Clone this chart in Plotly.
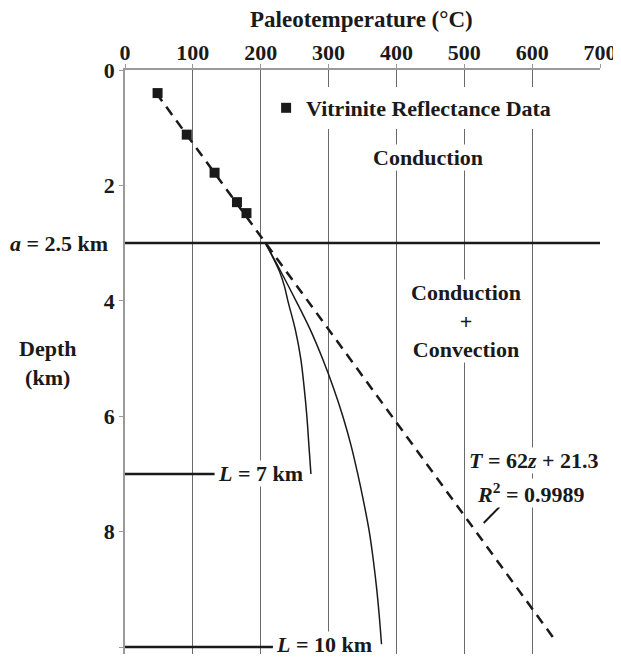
import plotly.graph_objects as go

# ---------------- data ----------------
x_ticks = [0, 100, 200, 300, 400, 500, 600, 700]
y_ticks = [0, 2, 4, 6, 8, 10]

# Vitrinite reflectance data (temperature °C, depth km)
vr_temp = [48, 91, 132, 165, 179]
vr_depth = [0.40, 1.12, 1.78, 2.29, 2.48]

# Linear fit T = 62z + 21.3 (end points)
fit_depth = [0.4, 9.92]
fit_temp = [46.1, 636.3]

# Model curve L = 7 km
l7_depth = [3.0, 3.25, 3.5, 3.75, 4.0, 4.5, 5.0, 5.5, 6.0, 6.5, 7.0]
l7_temp = [207, 218, 228, 235, 240, 251, 259, 264, 268, 271, 274]

# Model curve L = 10 km
l10_depth = [3.0, 3.5, 4.0, 4.5, 5.0, 5.5, 6.0, 6.5, 7.0, 7.5, 8.0, 8.5, 9.0, 9.5, 9.95]
l10_temp = [207, 230, 252, 273, 291, 307, 321, 333, 343, 352, 360, 366, 371, 375, 378]

# Reference lines
a_depth = [3.0, 3.0]
a_temp = [0, 700]
l7_line_depth = [7.0, 7.0]
l7_line_temp = [0, 132]
l10_line_depth = [10.0, 10.0]
l10_line_temp = [0, 218]

FONT = "Liberation Serif, Times New Roman, serif"
BLACK = "#1a1a1a"

fig = go.Figure()

fig.add_trace(go.Scatter(x=a_temp, y=a_depth, mode="lines",
                         line=dict(color=BLACK, width=2.5), showlegend=False, hoverinfo="skip"))
fig.add_trace(go.Scatter(x=l7_line_temp, y=l7_line_depth, mode="lines",
                         line=dict(color=BLACK, width=2.5), showlegend=False, hoverinfo="skip"))
fig.add_trace(go.Scatter(x=l10_line_temp, y=l10_line_depth, mode="lines",
                         line=dict(color=BLACK, width=2.5), showlegend=False, hoverinfo="skip"))
fig.add_trace(go.Scatter(x=fit_temp, y=fit_depth, mode="lines",
                         line=dict(color=BLACK, width=2.5, dash="10px,7px"), showlegend=False))
fig.add_trace(go.Scatter(x=l7_temp, y=l7_depth, mode="lines",
                         line=dict(color=BLACK, width=1.5, shape="spline"), showlegend=False))
fig.add_trace(go.Scatter(x=l10_temp, y=l10_depth, mode="lines",
                         line=dict(color=BLACK, width=1.5, shape="spline"), showlegend=False))
fig.add_trace(go.Scatter(x=vr_temp, y=vr_depth, mode="markers",
                         name="<b>Vitrinite Reflectance Data</b>",
                         marker=dict(symbol="square", size=10, color=BLACK), showlegend=True))

# The page adds an 8 px body margin; figure is sized so that, in the
# screenshot, the plot area spans x 125..603 and y 70..654.
OFF = 8
W, H = 621 - OFF, 658 - OFF
PL, PR, PT, PB = 125, 603, 70, 654  # plot area in screenshot pixels


def px_x(px):
    return (px - PL) / (PR - PL)


def px_y(py):
    return (PB - py) / (PB - PT)


def ann(text, x, y, xref="x", yref="y", xanchor="center", yanchor="middle", bg=None, size=22):
    d = dict(text=text, x=x, y=y, xref=xref, yref=yref, xanchor=xanchor, yanchor=yanchor,
             showarrow=False, font=dict(family=FONT, size=size, color=BLACK), borderpad=0)
    if bg:
        d["bgcolor"] = bg
    return d


annotations = [
    ann("<b>Paleotemperature (°C)</b>", px_x(363), px_y(20), "paper", "paper", size=23),
    ann("<b>Depth<br>(km)</b>", px_x(47), px_y(363), "paper", "paper"),
    ann("<b><i>a</i> = 2.5 km</b>", px_x(109), px_y(244), "paper", "paper", xanchor="right"),
    ann("<b>Conduction</b>", 446, 1.52, bg="white"),
    ann("<b>Conduction<br>+<br>Convection</b>", 503, 4.35, bg="white"),
    ann("<b><i>L</i> = 7 km</b>", 136, 7.0, xanchor="left", bg="white"),
    ann("<b><i>L</i> = 10 km</b>", 221, 9.95, xanchor="left", bg="white"),
    ann("<b><i>T</i> = 62<i>z</i> + 21.3</b>", 602, 6.76, bg="white"),
    ann("<b><i>R</i><sup>2</sup> = 0.9989</b>", 598, 7.33, bg="white"),
]

axis_common = dict(
    showline=True, linecolor="#9a9a9a", linewidth=1.5,
    ticks="outside", ticklen=4, tickcolor="#9a9a9a",
    tickfont=dict(family=FONT, size=22, color=BLACK), zeroline=False,
)

fig.update_layout(
    width=W, height=H,
    margin=dict(l=PL - OFF, r=W - (PR - OFF), t=PT - OFF, b=H - (PB - OFF), pad=0),
    plot_bgcolor="white", paper_bgcolor="white",
    font=dict(family=FONT, size=22, color=BLACK),
    xaxis=dict(side="top", range=[0, 700], tickvals=x_ticks,
               ticktext=[f"<b>{v}</b>" for v in x_ticks], ticklabelstandoff=-5,
               showgrid=True, gridcolor="#6a6a6a", gridwidth=1, **axis_common),
    yaxis=dict(range=[10.12, 0], tickvals=y_ticks,
               ticktext=[f"<b>{v}</b>" for v in y_ticks],
               showgrid=False, **axis_common),
    legend=dict(x=px_x(267), y=px_y(108), xanchor="left", yanchor="middle",
                bgcolor="white", borderwidth=0, itemwidth=30,
                font=dict(family=FONT, size=22, color=BLACK), tracegroupgap=0),
    annotations=annotations,
    shapes=[dict(type="line", xref="x", yref="y", x0=528.6, y0=7.85, x1=552, y1=7.57,
                 line=dict(color=BLACK, width=2))],
)

fig.write_html("out.html")
